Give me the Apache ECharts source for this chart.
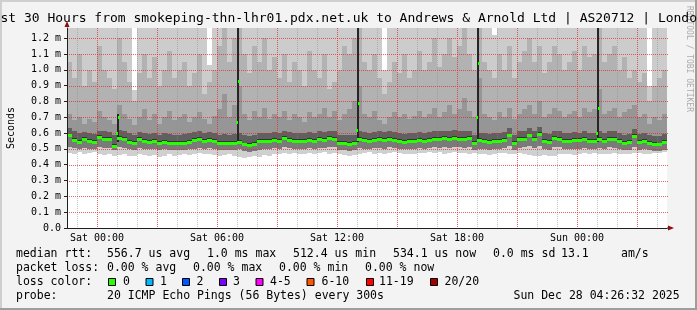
<!DOCTYPE html>
<html><head><meta charset="utf-8">
<script src="https://cdn.jsdelivr.net/npm/echarts@6/dist/echarts.min.js"></script>
<style>html,body{margin:0;padding:0;background:#f3f3f3}#c{width:697px;height:310px}</style>
</head><body><div id="c"></div><script>
// ---- data (milliseconds; time in hours relative to Sat 00:00) ----
const startHour = -1.5;          // Fri 22:30
const endHour = 28.5;            // Sun 04:30
const stepHours = 0.25;          // one smoke column = 15 min
const xTickLabels = ['Sat 00:00', 'Sat 06:00', 'Sat 12:00', 'Sat 18:00', 'Sun 00:00'];
const yMaxMs = 1.264;

const median = [0.585,0.555,0.545,0.56,0.55,0.545,0.575,0.565,0.562,0.52,
 0.57,0.565,0.545,0.535,0.56,0.548,0.545,0.55,0.54,0.545,
 0.538,0.54,0.535,0.54,0.545,0.555,0.56,0.553,0.558,0.55,
 0.535,0.54,0.538,0.54,0.545,0.528,0.525,0.53,0.548,0.552,
 0.55,0.555,0.552,0.568,0.555,0.55,0.548,0.552,0.558,0.55,
 0.562,0.558,0.57,0.565,0.535,0.54,0.53,0.538,0.56,0.555,
 0.55,0.558,0.562,0.555,0.565,0.558,0.55,0.545,0.552,0.548,
 0.555,0.55,0.558,0.565,0.56,0.568,0.562,0.57,0.565,0.56,
 0.568,0.54,0.555,0.552,0.545,0.55,0.548,0.555,0.585,0.54,
 0.56,0.565,0.585,0.56,0.595,0.55,0.545,0.57,0.565,0.55,
 0.548,0.555,0.555,0.56,0.55,0.553,0.56,0.548,0.565,0.56,
 0.548,0.54,0.545,0.58,0.545,0.55,0.54,0.53,0.528,0.545];

const smokeLo = [0.475,0.47,0.478,0.465,0.472,0.48,0.47,0.462,0.468,0.455,0.46,0.465,0.452,0.458,0.47,0.462,0.455,0.46,0.45,0.458,
 0.465,0.455,0.462,0.47,0.46,0.468,0.472,0.465,0.47,0.462,0.455,0.46,0.468,0.452,0.45,0.445,0.448,0.455,0.45,0.46,
 0.458,0.465,0.47,0.475,0.468,0.472,0.465,0.47,0.475,0.468,0.472,0.478,0.47,0.475,0.465,0.46,0.455,0.462,0.468,0.472,
 0.478,0.47,0.475,0.468,0.472,0.48,0.475,0.47,0.465,0.47,0.476,0.472,0.48,0.475,0.478,0.47,0.474,0.48,0.476,0.472,
 0.468,0.475,0.47,0.465,0.46,0.468,0.472,0.475,0.47,0.465,0.472,0.468,0.462,0.458,0.455,0.46,0.452,0.458,0.465,0.47,
 0.468,0.462,0.47,0.475,0.468,0.472,0.47,0.465,0.47,0.475,0.47,0.465,0.468,0.472,0.475,0.47,0.468,0.472,0.475,0.478];

const smokeLo2 = [0.51,0.505,0.5,0.505,0.5,0.5,0.51,0.505,0.505,0.49,0.51,0.505,0.5,0.495,0.505,0.5,0.5,0.5,0.495,0.5,
 0.495,0.495,0.49,0.495,0.5,0.5,0.505,0.5,0.505,0.5,0.49,0.495,0.49,0.495,0.5,0.485,0.48,0.485,0.495,0.5,
 0.5,0.505,0.5,0.51,0.505,0.5,0.5,0.5,0.505,0.5,0.505,0.505,0.51,0.51,0.49,0.49,0.485,0.49,0.505,0.5,
 0.5,0.505,0.505,0.5,0.51,0.505,0.5,0.5,0.5,0.5,0.505,0.5,0.505,0.51,0.505,0.51,0.505,0.51,0.51,0.505,
 0.51,0.49,0.5,0.5,0.495,0.5,0.5,0.505,0.52,0.49,0.505,0.51,0.52,0.505,0.52,0.5,0.495,0.51,0.51,0.5,
 0.5,0.5,0.5,0.505,0.5,0.5,0.505,0.5,0.51,0.505,0.5,0.49,0.495,0.515,0.495,0.5,0.49,0.485,0.485,0.495];

const smokeHi1 = [0.63,0.61,0.6,0.605,0.6,0.595,0.615,0.61,0.605,0.59,0.62,0.615,0.6,0.59,0.605,0.6,0.595,0.6,0.59,0.6,
 0.595,0.59,0.59,0.595,0.6,0.605,0.61,0.6,0.605,0.6,0.59,0.595,0.59,0.595,0.6,0.585,0.58,0.585,0.6,0.6,
 0.6,0.605,0.6,0.615,0.605,0.6,0.6,0.6,0.605,0.6,0.61,0.605,0.615,0.615,0.59,0.59,0.585,0.59,0.61,0.605,
 0.6,0.605,0.61,0.605,0.615,0.605,0.6,0.595,0.6,0.6,0.605,0.6,0.605,0.615,0.61,0.615,0.61,0.62,0.615,0.61,
 0.615,0.59,0.6,0.6,0.595,0.6,0.6,0.605,0.63,0.59,0.61,0.615,0.63,0.61,0.64,0.6,0.595,0.615,0.61,0.6,
 0.6,0.605,0.6,0.61,0.6,0.6,0.61,0.6,0.615,0.61,0.6,0.59,0.595,0.625,0.595,0.6,0.59,0.58,0.58,0.595];

const smokeHi2 = [0.72,0.68,0.7,0.66,0.69,0.67,0.74,0.7,0.68,0.66,0.78,0.72,0.69,0.65,0.7,0.75,0.68,0.72,0.66,0.7,
 0.74,0.68,0.7,0.72,0.67,0.7,0.73,0.69,0.66,0.71,0.75,0.85,0.7,0.78,0.9,0.72,0.68,0.74,0.7,0.76,
 0.69,0.72,0.7,0.74,0.68,0.72,0.7,0.67,0.73,0.7,0.72,0.76,0.7,0.74,0.68,0.72,0.75,0.8,0.9,0.72,
 0.7,0.74,0.68,0.66,0.7,0.73,0.7,0.72,0.69,0.71,0.74,0.7,0.72,0.76,0.7,0.73,0.78,0.72,0.75,0.82,
 0.74,0.7,0.95,0.72,0.7,0.68,0.73,0.7,0.76,0.69,0.72,0.75,0.78,0.72,0.8,0.7,0.72,0.76,0.74,0.7,
 0.72,0.74,0.7,0.76,0.73,0.75,0.88,0.72,0.74,0.76,0.7,0.73,0.75,0.78,0.7,0.72,0.66,0.7,0.68,0.72];

const smokeHi3 = [1.05,0.95,1.1,0.9,1.0,0.92,1.15,1.0,0.95,0.88,1.2,1.05,0.92,0.8,0.98,1.1,0.95,1.08,0.9,1.0,
 1.12,0.95,1.0,1.05,0.9,0.98,1.1,0.85,0.92,1.0,1.15,1.27,1.05,1.2,1.27,1.1,0.98,1.15,1.05,1.2,
 1.0,1.08,0.95,1.1,0.92,1.05,1.0,0.9,1.12,1.0,0.95,1.1,0.88,0.92,1.0,1.15,1.1,1.2,1.27,1.05,
 1.0,1.1,0.95,0.85,0.92,1.05,0.98,1.1,0.95,1.0,1.12,1.0,1.05,1.2,1.02,1.1,1.2,1.08,1.15,1.27,
 1.1,1.0,1.27,1.05,1.0,0.95,1.1,1.0,1.15,0.95,1.05,1.12,1.2,1.05,1.15,0.98,1.05,1.15,1.1,1.0,
 1.05,1.12,1.0,1.15,1.08,1.1,1.27,1.05,1.1,1.15,1.0,1.08,0.95,1.0,0.92,0.98,0.8,0.9,0.95,1.0];

const smokeTop = [1.3,1.3,1.3,1.3,1.3,1.3,1.3,1.3,1.3,1.3,1.3,1.3,1.3,0.87,1.3,1.3,1.3,1.3,1.3,1.3,
 1.3,1.3,1.3,1.3,1.3,1.3,1.3,1.3,1.03,1.3,1.3,1.3,1.3,1.3,1.3,1.3,1.3,1.3,1.3,1.3,
 1.3,1.3,1.3,1.3,1.3,1.3,1.3,1.3,1.3,1.3,1.3,1.3,1.3,1.3,1.3,1.3,1.3,1.3,1.3,1.3,
 1.3,1.3,1.3,1.0,1.3,1.3,1.3,1.3,1.3,1.3,1.3,1.3,1.3,1.3,1.3,1.3,1.3,1.3,1.3,1.3,
 1.3,1.3,1.3,1.3,1.3,1.22,1.3,1.3,1.3,1.3,1.3,1.3,1.3,1.3,1.3,1.3,1.3,1.3,1.3,1.3,
 1.3,1.3,1.3,1.3,1.3,1.3,1.3,1.3,1.3,1.3,1.3,1.3,1.3,1.3,1.3,1.3,0.9,1.3,1.3,1.3];

const spikeHours = [1.05, 7.05, 13.05, 19.05, 25.05];
const spikeMedLow = [0.60, 0.67, 0.62, 0.70, 0.60];
const spikeMedHigh = [0.70, 0.93, 0.79, 1.04, 0.76];
const spikeTop = [0.72, 1.3, 1.3, 1.3, 1.3];

const statsRow1 = ['median rtt:', '556.7 us avg', '1.0 ms max', '512.4 us min', '534.1 us now', '0.0 ms sd', '13.1', 'am/s'];
const statsRow2 = ['packet loss:', '0.00 % avg', '0.00 % max', '0.00 % min', '0.00 % now'];
const lossLabels = ['0', '1', '2', '3', '4-5', '6-10', '11-19', '20/20'];
const lossColors = ['#26ff00', '#00b8ff', '#0059ff', '#7e00ff', '#ff00ff', '#ff5500', '#ff0000', '#a10000'];
const probeRow = ['probe:', '20 ICMP Echo Pings (56 Bytes) every 300s', 'Sun Dec 28 04:26:32 2025'];
const titleText = 'Last 30 Hours from smokeping-thn-lhr01.pdx.net.uk to Andrews & Arnold Ltd | AS20712 | London';

// ---- layout / style ----
const MONO = '"DejaVu Sans Mono", monospace';
const row1X = [16, 107, 207, 293, 393, 493, 561, 621];
const row2X = [16, 107, 193, 279, 365];
const boxX = [108, 145.5, 182, 219, 255.5, 306.5, 366, 430];
const boxLabelX = [123, 160, 196.5, 233, 270, 321.5, 379, 444.5];
const rowY = [254, 268, 282, 296];
const MAJOR = 'rgba(225,40,40,0.72)', MINOR = 'rgba(140,140,140,0.5)';

const clampV = v => Math.max(0, Math.min(v, yMaxMs));

const smokeData = median.map((m, i) => [startHour + i * stepHours, startHour + (i + 1) * stepHours,
  smokeLo[i], smokeLo2[i], m, smokeHi1[i], smokeHi2[i], smokeHi3[i], smokeTop[i]]);
const spikeData = spikeHours.map((h, i) => [h, spikeMedLow[i], spikeMedHigh[i], spikeTop[i]]);

function renderSmoke(params, api) {
  const t0 = api.value(0), t1 = api.value(1);
  const x0 = Math.round(api.coord([t0, 0])[0]), x1 = Math.round(api.coord([t1, 0])[0]);
  const yOf = v => Math.round(api.coord([t0, clampV(v)])[1]);
  const lo = api.value(2), lo2 = api.value(3), med = api.value(4), h1 = api.value(5), h2 = api.value(6), h3 = api.value(7), top = api.value(8);
  const bands = [[lo, lo2, '#d0d0d0'], [lo2, med - 0.01, '#7a7a7a'], [med - 0.01, med + 0.012, '#343434'],
    [med + 0.012, h1, '#606060'], [h1, h2, '#969696'], [h2, h3, '#b2b2b2'], [h3, top, '#cccccc']];
  const children = [];
  bands.forEach(([a, b, c]) => {
    const ya = yOf(a), yb = yOf(b);
    if (ya <= yb) return;
    children.push({ type: 'rect', shape: { x: x0, y: yb, width: x1 - x0, height: ya - yb }, style: { fill: c } });
  });
  return { type: 'group', children };
}
function renderMedian(params, api) {
  const t0 = api.value(0), t1 = api.value(1);
  const x0 = Math.round(api.coord([t0, 0])[0]), x1 = Math.round(api.coord([t1, 0])[0]);
  const y = Math.round(api.coord([t0, api.value(4)])[1]);
  return { type: 'rect', shape: { x: x0, y: y - 1, width: x1 - x0, height: 3 }, style: { fill: '#26ff00' } };
}
function renderSpike(params, api) {
  const x = Math.round(api.coord([api.value(0), 0])[0]);
  const yBase = Math.round(api.coord([0, 0.545])[1]);
  const yTop = Math.round(api.coord([0, clampV(api.value(3))])[1]);
  const yA = Math.round(api.coord([0, api.value(1)])[1]);
  const yB = Math.round(api.coord([0, api.value(2)])[1]);
  return { type: 'group', children: [
    { type: 'rect', shape: { x: x - 1, y: yTop, width: 2, height: yBase - yTop }, style: { fill: '#262626' } },
    { type: 'rect', shape: { x: x - 2, y: yA - 1, width: 2, height: 3 }, style: { fill: '#26ff00' } },
    { type: 'rect', shape: { x: x, y: yB - 1, width: 2, height: 3 }, style: { fill: '#26ff00' } }
  ] };
}
// dotted rrdtool-style grid, positioned through the axes
function renderGrid(params, api) {
  const children = [];
  const yTop = api.coord([startHour, yMaxMs])[1], yBot = api.coord([startHour, 0])[1];
  const xL = api.coord([startHour, 0])[0], xR = api.coord([endHour, 0])[0];
  for (let h = Math.ceil(startHour); h <= endHour; h++) {
    const x = Math.round(api.coord([h, 0])[0]) + 0.5;
    const major = ((h % 3) + 3) % 3 === 0;
    children.push({ type: 'line', shape: { x1: x, y1: yTop, x2: x, y2: yBot }, style: { stroke: major ? MAJOR : MINOR, lineWidth: 1, lineDash: [1, 1] } });
  }
  for (let k = 1; k * 0.1 < yMaxMs; k++) {
    const y = Math.round(api.coord([startHour, k * 0.1])[1]) + 0.5;
    children.push({ type: 'line', shape: { x1: xL, y1: y, x2: xR + 2, y2: y }, style: { stroke: MAJOR, lineWidth: 1, lineDash: [1, 1] } });
  }
  return { type: 'group', children };
}

const gfx = [];
// frame
gfx.push({ type: 'rect', shape: { x: 0, y: 0, width: 697, height: 2 }, style: { fill: '#cfcfcf' } });
gfx.push({ type: 'rect', shape: { x: 0, y: 0, width: 2, height: 310 }, style: { fill: '#cfcfcf' } });
gfx.push({ type: 'rect', shape: { x: 0, y: 308, width: 697, height: 2 }, style: { fill: '#9e9e9e' } });
gfx.push({ type: 'rect', shape: { x: 695, y: 0, width: 2, height: 310 }, style: { fill: '#9e9e9e' } });
// watermark
gfx.push({ type: 'text', x: 689, y: 6, rotation: -Math.PI / 2, style: { text: 'RRDTOOL / TOBI OETIKER', font: '8px ' + MONO, fill: '#ababab', align: 'left', verticalAlign: 'middle' } });
// title
gfx.push({ type: 'text', x: -15.2, y: 18.5, style: { text: titleText, font: '13px ' + MONO, fill: '#000', align: 'left', verticalAlign: 'middle' } });
// arrows
gfx.push({ type: 'polygon', shape: { points: [[64.5, 27], [69.5, 27], [67, 21]] }, style: { fill: '#8b1010' } });
gfx.push({ type: 'rect', shape: { x: 667, y: 227.5, width: 2, height: 1 }, style: { fill: '#202020' } });
gfx.push({ type: 'polygon', shape: { points: [[668, 225.5], [668, 230.5], [674, 228]] }, style: { fill: '#8b1010' } });
// legend rows
const txt = (s, x, y) => ({ type: 'text', x: x, y: y, style: { text: s, font: '11.5px ' + MONO, fill: '#000', align: 'left', verticalAlign: 'middle' } });
statsRow1.forEach((s, i) => gfx.push(txt(s, row1X[i], rowY[0])));
statsRow2.forEach((s, i) => gfx.push(txt(s, row2X[i], rowY[1])));
gfx.push(txt('loss color:', 16, rowY[2]));
lossLabels.forEach((s, i) => {
  gfx.push({ type: 'rect', shape: { x: boxX[i] + 0.5, y: 278.5, width: 7, height: 7 }, style: { fill: lossColors[i], stroke: '#000', lineWidth: 1 } });
  gfx.push(txt(s, boxLabelX[i], rowY[2]));
});
gfx.push(txt(probeRow[0], 16, rowY[3]));
gfx.push(txt(probeRow[1], 107, rowY[3]));
gfx.push(txt(probeRow[2], 513.5, rowY[3]));

const chart = echarts.init(document.getElementById('c'), null, { renderer: 'canvas' });
chart.setOption({
  animation: false,
  backgroundColor: '#f3f3f3',
  grid: { left: 67, top: 28, width: 600, height: 200, show: true, backgroundColor: '#ffffff', borderWidth: 0, containLabel: false, outerBoundsMode: 'none' },
  xAxis: {
    type: 'value', min: startHour, max: endHour, interval: 0.5, z: 6,
    axisLine: { show: true, onZero: false, lineStyle: { color: '#202020', width: 1 } },
    axisTick: { show: false },
    axisLabel: {
      margin: 5, fontFamily: MONO, fontSize: 10, color: '#000',
      formatter: v => { const k = v / 6; return (Number.isInteger(k) && k >= 0 && k < xTickLabels.length) ? xTickLabels[k] : ''; }
    },
    splitLine: { show: false }
  },
  yAxis: {
    type: 'value', min: 0, max: yMaxMs, interval: 0.1, z: 6,
    name: 'Seconds', nameLocation: 'middle', nameGap: 51, nameRotate: 90,
    nameTextStyle: { fontFamily: MONO, fontSize: 10, color: '#000' },
    axisLine: { show: true, onZero: false, lineStyle: { color: '#202020', width: 1 } },
    axisTick: { show: true, length: 3, lineStyle: { color: '#202020' } },
    axisLabel: {
      margin: 6, fontFamily: MONO, fontSize: 10, color: '#000', showMaxLabel: false,
      formatter: v => { const k = Math.round(v * 10); if (Math.abs(v * 10 - k) > 1e-6) return ''; return k === 0 ? '0.0' : (k / 10).toFixed(1) + ' m'; }
    },
    splitLine: { show: false }
  },
  graphic: { elements: gfx },
  series: [
    { type: 'custom', z: 2, silent: true, renderItem: renderSmoke, data: smokeData, encode: { x: [0, 1], y: [2, 8] } },
    { type: 'custom', z: 3, silent: true, renderItem: renderGrid, data: [[startHour, 0]], encode: { x: 0, y: 1 } },
    { type: 'custom', z: 4, silent: true, renderItem: renderSpike, data: spikeData, encode: { x: 0, y: [1, 3] } },
    { type: 'custom', z: 5, silent: true, renderItem: renderMedian, data: smokeData, encode: { x: [0, 1], y: 4 } }
  ]
});
</script></body></html>
